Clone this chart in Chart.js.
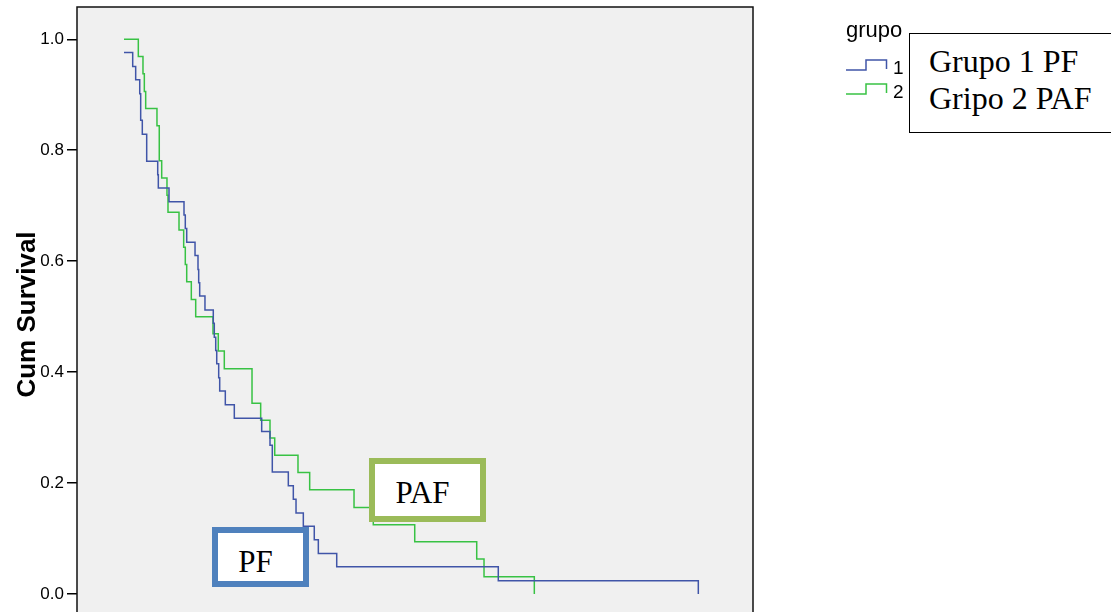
<!DOCTYPE html>
<html><head><meta charset="utf-8">
<script src="https://cdn.jsdelivr.net/npm/chart.js@4"></script>
<style>
html,body{margin:0;padding:0;width:1111px;height:612px;overflow:hidden;background:#fff;}
#wrap{position:relative;width:1111px;height:612px;overflow:hidden;}
canvas{position:absolute;left:0;top:0;}
.box{position:absolute;box-sizing:border-box;background:#fff;font-family:"Liberation Serif","Times New Roman",serif;color:#000;display:flex;align-items:center;justify-content:center;font-size:31px;line-height:1;}
#note{position:absolute;left:909px;top:33px;width:240px;height:100px;box-sizing:border-box;border:1.5px solid #000;background:#fff;font-family:"Liberation Serif","Times New Roman",serif;font-size:32px;line-height:37px;padding:9px 0 0 19px;color:#000;white-space:nowrap;}
</style></head><body>
<div id="wrap">
<canvas id="c" width="1111" height="632"></canvas>
<div class="box" style="left:212px;top:527px;width:97px;height:60px;border:6px solid #4f81bd;padding:9px 10px 0 0;">PF</div>
<div class="box" style="left:369px;top:458px;width:117px;height:64px;border:6.5px solid #9bbb59;padding:5px 10px 0 0;">PAF</div>
<div id="note">Grupo 1 PF<br>Gripo 2 PAF</div>
</div>
<script>
// ---- data ----
const groupLabels = ['1', '2'];
const blueTime = [6.95, 8.24, 8.68, 9.28, 9.42, 9.66, 10.31, 11.94, 12.03, 13.61, 15.83, 16.02, 16.23, 17.46, 17.90, 18.00, 18.15, 18.93, 20.16, 20.31, 20.52, 20.67, 20.96, 21.11, 21.94, 23.27, 27.32, 28.55, 28.89, 31.26, 32.00, 32.40, 33.48, 35.10, 35.70, 38.42, 62.32, 91.91];
const blueSurv = [0.976, 0.951, 0.927, 0.902, 0.854, 0.829, 0.780, 0.756, 0.732, 0.707, 0.683, 0.659, 0.634, 0.610, 0.585, 0.561, 0.537, 0.512, 0.488, 0.463, 0.439, 0.415, 0.390, 0.366, 0.341, 0.317, 0.293, 0.268, 0.220, 0.195, 0.171, 0.146, 0.122, 0.098, 0.073, 0.049, 0.024, 0.000];
const greenTime = [6.95, 9.07, 9.76, 9.96, 10.16, 11.83, 12.17, 12.53, 13.31, 13.46, 15.09, 15.78, 16.02, 16.23, 16.91, 17.56, 20.12, 20.90, 21.79, 25.89, 27.17, 28.55, 29.25, 32.69, 34.42, 40.98, 43.83, 49.96, 59.13, 60.21, 67.65];
const greenSurv = [1.000, 0.969, 0.938, 0.906, 0.875, 0.844, 0.781, 0.750, 0.719, 0.688, 0.656, 0.625, 0.594, 0.563, 0.531, 0.500, 0.469, 0.438, 0.406, 0.344, 0.313, 0.281, 0.250, 0.219, 0.188, 0.156, 0.125, 0.094, 0.063, 0.031, 0.000];
const yTicks = [0.0, 0.2, 0.4, 0.6, 0.8, 1.0];
const legendTitle = 'grupo';
const yTitle = 'Cum Survival';

const BLUE = '#4055a8', GREEN = '#38c244';
const SANS = '"Liberation Sans", Arial, sans-serif';

const framePlugin = {
  id: 'frame',
  beforeDraw(chart) {
    const {ctx, chartArea: a} = chart;
    ctx.save();
    ctx.fillStyle = '#f0f0f0';
    ctx.fillRect(a.left, a.top, a.right - a.left, a.bottom - a.top);
    ctx.restore();
  },
  afterDraw(chart) {
    const {ctx, chartArea: a} = chart;
    ctx.save();
    ctx.strokeStyle = '#111';
    ctx.lineWidth = 1.5;
    ctx.strokeRect(a.left, a.top, a.right - a.left, a.bottom - a.top);
    // legend
    ctx.fillStyle = '#000';
    ctx.textBaseline = 'alphabetic';
    ctx.font = '22px ' + SANS;
    ctx.fillText(legendTitle, 846, 37);
    ctx.font = '19px ' + SANS;
    chart.data.datasets.forEach((ds, i) => {
      const y0 = 70 + i * 24;
      ctx.strokeStyle = ds.borderColor;
      ctx.lineWidth = 1.5;
      ctx.beginPath();
      ctx.moveTo(846, y0);
      ctx.lineTo(866, y0);
      ctx.lineTo(866, y0 - 10);
      ctx.lineTo(886.5, y0 - 10);
      ctx.lineTo(886.5, y0 - 1);
      ctx.stroke();
      ctx.fillText(groupLabels[i], 893, y0 + 3.5);
    });
    ctx.restore();
  }
};

new Chart(document.getElementById('c'), {
  type: 'line',
  data: {
    datasets: [
      { label: groupLabels[0], data: blueTime.map((t, i) => ({x: t, y: blueSurv[i]})), borderColor: BLUE, borderWidth: 1.5, stepped: 'before', pointRadius: 0, fill: false },
      { label: groupLabels[1], data: greenTime.map((t, i) => ({x: t, y: greenSurv[i]})), borderColor: GREEN, borderWidth: 1.5, stepped: 'before', pointRadius: 0, fill: false }
    ]
  },
  options: {
    responsive: false,
    devicePixelRatio: 1,
    animation: false,
    layout: { padding: { left: 0, top: 7, right: 358, bottom: 10 } },
    plugins: { legend: { display: false }, tooltip: { enabled: false } },
    scales: {
      x: { type: 'linear', display: false, min: 0, max: 100 },
      y: {
        type: 'linear', min: -0.0505, max: 1.0582,
        afterBuildTicks: s => { s.ticks = yTicks.map(v => ({value: v})); },
        afterFit: s => { s.width = 77; s.paddingTop = 0; s.paddingBottom = 0; },
        ticks: { callback: v => Number(v).toFixed(1), color: '#000', font: { family: SANS, size: 17 }, padding: 3 },
        grid: { drawOnChartArea: false, drawTicks: true, tickLength: 10, color: '#000', lineWidth: 1.5 },
        border: { display: false },
        title: { display: true, text: yTitle, color: '#000', font: { family: SANS, size: 26, weight: 'bold' }, padding: { top: 12, bottom: 0 } }
      }
    }
  },
  plugins: [framePlugin]
});
</script>
</body></html>
